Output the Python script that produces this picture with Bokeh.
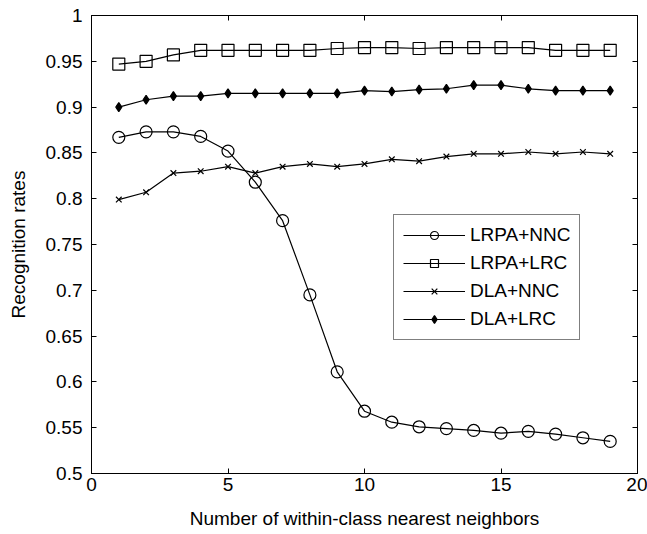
from bokeh.plotting import figure
from bokeh.models import Range1d, LinearAxis, FixedTicker, Legend, LegendItem
from bokeh.embed import file_html
from bokeh.resources import INLINE

x = list(range(1, 20))
lrpa_nnc = [0.867, 0.873, 0.873, 0.868, 0.852, 0.818, 0.776, 0.695, 0.611, 0.568,
            0.556, 0.551, 0.549, 0.547, 0.544, 0.546, 0.543, 0.539, 0.535]
lrpa_lrc = [0.947, 0.950, 0.957, 0.962, 0.962, 0.962, 0.962, 0.962, 0.964, 0.965,
            0.965, 0.964, 0.965, 0.965, 0.965, 0.965, 0.962, 0.962, 0.962]
dla_nnc = [0.799, 0.807, 0.828, 0.830, 0.835, 0.828, 0.835, 0.838, 0.835, 0.838,
           0.843, 0.841, 0.846, 0.849, 0.849, 0.851, 0.849, 0.851, 0.849]
dla_lrc = [0.900, 0.908, 0.912, 0.912, 0.915, 0.915, 0.915, 0.915, 0.915, 0.918,
           0.917, 0.919, 0.920, 0.924, 0.924, 0.920, 0.918, 0.918, 0.918]
series_names = ["LRPA+NNC", "LRPA+LRC", "DLA+NNC", "DLA+LRC"]
x_ticks = [0, 5, 10, 15, 20]
y_ticks = [0.5, 0.55, 0.6, 0.65, 0.7, 0.75, 0.8, 0.85, 0.9, 0.95, 1.0]
y_tick_labels = ["0.5", "0.55", "0.6", "0.65", "0.7", "0.75", "0.8", "0.85", "0.9", "0.95", "1"]
x_title = "Number of within-class nearest neighbors"
y_title = "Recognition rates"

FONT = "Liberation Sans"
FS = "19px"

p = figure(width=647, height=534, output_backend="svg", toolbar_location=None,
           x_range=Range1d(0, 20), y_range=Range1d(0.5, 1.0),
           min_border_left=91, min_border_right=10, min_border_top=15, min_border_bottom=61)
p.grid.visible = False
p.outline_line_color = "black"
p.outline_line_width = 1
p.background_fill_color = "white"
p.border_fill_color = "white"

def style_axis(ax, labels=True):
    ax.axis_line_color = "black"
    ax.major_tick_line_color = "black"
    ax.major_tick_in = 5
    ax.major_tick_out = 0
    ax.minor_tick_line_color = None
    ax.major_label_text_font = FONT
    ax.major_label_text_font_size = FS
    ax.major_label_text_color = "black" if labels else None
    ax.axis_label_text_font = FONT
    ax.axis_label_text_font_size = FS
    ax.axis_label_text_font_style = "normal"
    ax.axis_label_text_color = "black"

p.xaxis.ticker = FixedTicker(ticks=x_ticks)
p.yaxis.ticker = FixedTicker(ticks=y_ticks)
p.yaxis.major_label_overrides = {t: l for t, l in zip(y_ticks, y_tick_labels)}
for ax in p.xaxis + p.yaxis:
    style_axis(ax)
p.xaxis.axis_label = x_title
p.yaxis.axis_label = y_title
p.xaxis.major_label_standoff = 4
p.yaxis.major_label_standoff = 9
p.xaxis.axis_label_standoff = 14
p.yaxis.axis_label_standoff = 14

top = LinearAxis(ticker=FixedTicker(ticks=x_ticks), major_label_standoff=0)
right = LinearAxis(ticker=FixedTicker(ticks=y_ticks), major_label_standoff=0)
style_axis(top, labels=False)
style_axis(right, labels=False)
p.add_layout(top, "above")
p.add_layout(right, "right")

items = []
data = [lrpa_nnc, lrpa_lrc, dla_nnc, dla_lrc]
markers = ["circle", "square", "x", "diamond"]
sizes = [12, 12, 8, 9]
fills = [None, None, None, "black"]
for name, ys, mk, sz, fc in zip(series_names, data, markers, sizes, fills):
    ln = p.line(x, ys, line_color="black", line_width=1.2)
    sc = p.scatter(x, ys, marker=mk, size=sz, line_color="black", line_width=1.2,
                   fill_color=fc if fc else None)
    items.append(LegendItem(label=name, renderers=[ln, sc]))

legend = Legend(items=items, location=(302, 133), border_line_color="black",
                border_line_width=1, background_fill_color="white", background_fill_alpha=1,
                label_text_font=FONT, label_text_font_size=FS, label_text_color="black",
                glyph_width=62, glyph_height=20, label_height=20, label_standoff=5,
                spacing=6, padding=9, margin=0)
p.add_layout(legend, "center")

open("out.html", "w").write(file_html(p, INLINE))
